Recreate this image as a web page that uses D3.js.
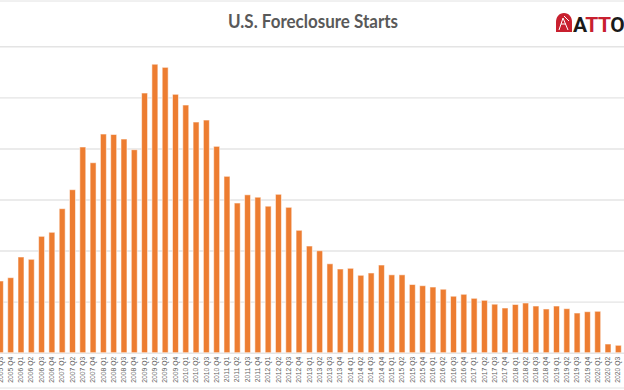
<!DOCTYPE html>
<html>
<head>
  <meta charset="utf-8">
  <title>U.S. Foreclosure Starts</title>
  <style>
    body { margin: 0; background: #fff; }
    svg { display: block; }
    .grid line { stroke: #e4e4e4; stroke-width: 1.4px; }
    .grid path { display: none; }
    .grid text { display: none; }
    .xaxis path, .xaxis line { display: none; }
    .xaxis text { font-family: "Liberation Sans", sans-serif; font-size: 6.8px; fill: #5f5f5f; }
    .bars rect { fill: #ED7D31; stroke: #fff; stroke-opacity: 0.55; stroke-width: 1px; }
  </style>
</head>
<body>
<svg width="624" height="390"></svg>
<script src="https://cdn.jsdelivr.net/npm/d3@7"></script>
<script>

  // quarters 2005 Q3 .. 2020 Q3
  var years = d3.range(2005, 2021);
  var quarters = [];
  years.forEach(function(y) {
    ["Q1", "Q2", "Q3", "Q4"].forEach(function(q) { quarters.push(y + " " + q); });
  });
  quarters = quarters.slice(quarters.indexOf("2005 Q3"), quarters.indexOf("2020 Q3") + 1);

  // foreclosure starts per quarter
  var starts = [
    140400, 146900,
    187400, 182900, 227900, 235800,
    282000, 319200, 402800, 372000,
    428200, 427300, 418400, 397500,
    508500, 564900, 558800, 506000,
    485000, 451700, 455600, 404100,
    345400, 293100, 309200, 304500,
    286900, 310200, 284700, 239700,
    208900, 199700, 174100, 163900,
    165300, 151600, 156100, 171700,
    152500, 152500, 133500, 131200,
    128600, 124300, 110600, 114400,
    106500, 102600, 95000, 87500,
    94400, 97300, 91400, 85600,
    91400, 86200, 77700, 80300,
    81100, 17000, 14500
  ];

  var yTicks = [0, 100000, 200000, 300000, 400000, 500000, 600000];

  var svg = d3.select("svg"),
      width = +svg.attr("width"),
      height = +svg.attr("height");

  var x = d3.scaleBand()
      .domain(quarters)
      .range([-4.75, 623.45])
      .paddingInner(0.42)
      .paddingOuter(0.21);

  var y = d3.scaleLinear()
      .domain([0, 600000])
      .range([352.7, 46.3]);

  // faint sheet lines at top and bottom
  svg.append("line")
      .attr("x1", 0).attr("x2", width)
      .attr("y1", 1).attr("y2", 1)
      .attr("stroke", "#e2e2e2");
  svg.append("line")
      .attr("x1", 0).attr("x2", width)
      .attr("y1", 388).attr("y2", 388)
      .attr("stroke", "#e2e2e2");

  svg.append("g")
      .attr("class", "grid")
      .attr("transform", "translate(-6,0)")
      .call(d3.axisLeft(y).tickValues(yTicks).tickSize(-width - 12).tickFormat(""));

  svg.append("g")
      .attr("class", "bars")
      .selectAll("rect")
      .data(starts)
      .enter()
      .append("rect")
      .attr("x", function(d, i) { return x(quarters[i]); })
      .attr("width", x.bandwidth())
      .attr("y", function(d) { return y(d); })
      .attr("height", function(d) { return y(0) - y(d); });

  var xAxis = svg.append("g")
      .attr("class", "xaxis")
      .attr("transform", "translate(0," + y(0) + ")")
      .call(d3.axisBottom(x).tickSize(0).tickPadding(0));

  xAxis.selectAll("text")
      .attr("transform", "rotate(-90)")
      .attr("text-anchor", "end")
      .attr("dx", "-4")
      .attr("dy", "0.32em")
      .attr("x", 0)
      .attr("y", 0);

  svg.append("text")
      .attr("x", 313)
      .attr("y", 28)
      .attr("text-anchor", "middle")
      .attr("font-family", "Lato, 'Open Sans', sans-serif")
      .attr("font-weight", "bold")
      .attr("font-size", 19)
      .attr("textLength", 170)
      .attr("lengthAdjust", "spacingAndGlyphs")
      .attr("fill", "#595959")
      .text("U.S. Foreclosure Starts");

  // ATTOM logo, cut at the right edge
  var logo = svg.append("g").attr("transform", "translate(556,13)");
  logo.append("path")
      .attr("d", "M8,0 C13,0 16,4 16,9 L16,19 L0,19 L0,9 C0,4 3,0 8,0 Z")
      .attr("fill", "#c8202f");
  logo.append("path")
      .attr("d", "M3,17 L7,5 L12,17 M5,11 L10,11 M8,3 L13,8")
      .attr("fill", "none")
      .attr("stroke", "#fff")
      .attr("stroke-width", 1);
  logo.append("text")
      .attr("x", 17)
      .attr("y", 19)
      .attr("font-family", "Roboto, sans-serif")
      .attr("font-weight", "bold")
      .attr("font-size", 21)
      .attr("letter-spacing", "-0.5")
      .html('<tspan fill="#1a1a1a">A</tspan><tspan fill="#c8202f">TT</tspan><tspan fill="#1a1a1a">OM</tspan>');

</script>
</body>
</html>
